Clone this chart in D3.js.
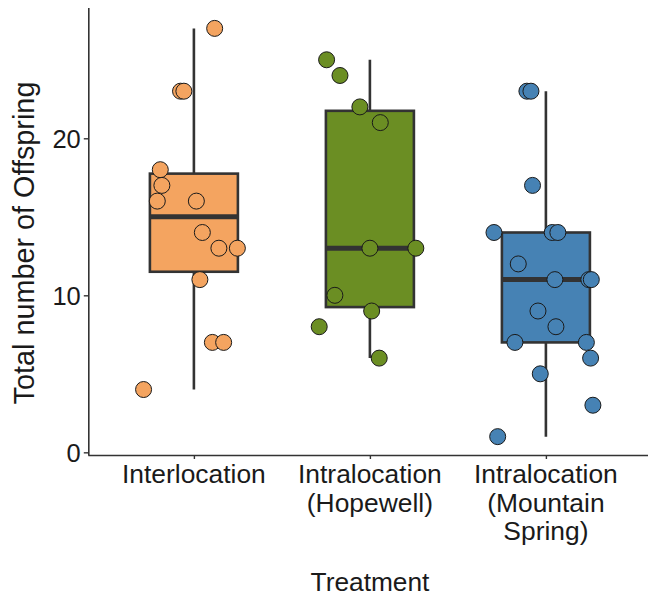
<!DOCTYPE html>
<html>
<head>
<meta charset="utf-8">
<script src="https://cdn.jsdelivr.net/npm/d3@7"></script>
<style>
html, body { margin: 0; padding: 0; background: #fff; }
svg { display: block; }
text { font-family: "Liberation Sans", Arial, sans-serif; fill: #1a1a1a; }
</style>
</head>
<body>
<svg id="chart" width="648" height="597"></svg>
<script>
// ---- data ----
const categories = ["Interlocation", "Intralocation (Hopewell)", "Intralocation (Mountain Spring)"];
const categoryLabels = [["Interlocation"], ["Intralocation", "(Hopewell)"], ["Intralocation", "(Mountain", "Spring)"]];
const colors = ["#F4A460", "#6B8E23", "#4682B4"];

const interlocationValues = [27, 23, 23, 18, 17, 16, 16, 14, 13, 13, 11, 7, 7, 4];
const interlocationJitter = [0.118, -0.076, -0.057, -0.191, -0.182, -0.208, 0.014, 0.048, 0.142, 0.247, 0.034, 0.105, 0.169, -0.286];

const hopewellValues = [25, 24, 22, 21, 13, 13, 10, 9, 8, 6];
const hopewellJitter = [-0.246, -0.170, -0.057, 0.059, 0.0, 0.261, -0.199, 0.010, -0.288, 0.053];

const mountainValues = [23, 23, 17, 14, 14, 14, 12, 11, 11, 11, 9, 8, 7, 7, 6, 5, 3, 1];
const mountainJitter = [-0.108, -0.085, -0.076, -0.295, 0.036, 0.068, -0.157, 0.051, 0.244, 0.258, -0.045, 0.057, -0.176, 0.230, 0.254, -0.032, 0.267, -0.274];

const yTicks = [0, 10, 20];
const yTitle = "Total number of Offspring";
const xTitle = "Treatment";

// ---- build ----
const groups = [
  { cat: categories[0], values: interlocationValues, jitter: interlocationJitter, color: colors[0], label: categoryLabels[0] },
  { cat: categories[1], values: hopewellValues, jitter: hopewellJitter, color: colors[1], label: categoryLabels[1] },
  { cat: categories[2], values: mountainValues, jitter: mountainJitter, color: colors[2], label: categoryLabels[2] }
];

groups.forEach(g => {
  const s = g.values.slice().sort(d3.ascending);
  g.q1 = d3.quantile(s, 0.25);
  g.med = d3.quantile(s, 0.5);
  g.q3 = d3.quantile(s, 0.75);
  const iqr = g.q3 - g.q1;
  g.lo = d3.min(s.filter(v => v >= g.q1 - 1.5 * iqr));
  g.hi = d3.max(s.filter(v => v <= g.q3 + 1.5 * iqr));
});

const svg = d3.select("#chart");
const axisX = 88.3, axisBottom = 455, axisTop = 7.5;

const x = d3.scalePoint().domain(categories).range([axisX, 651.5]).padding(0.6);
const step = x.step();
const y = d3.scaleLinear().domain([-0.17, 28.33]).range([axisBottom, axisTop]);
const boxW = step * 0.5;
const ink = "#333333";

const g = svg.append("g");

// whiskers
g.selectAll("line.whisker").data(groups).join("line")
  .attr("class", "whisker")
  .attr("x1", d => x(d.cat)).attr("x2", d => x(d.cat))
  .attr("y1", d => y(d.hi)).attr("y2", d => y(d.lo))
  .attr("stroke", ink).attr("stroke-width", 2.6);

// boxes
g.selectAll("rect.box").data(groups).join("rect")
  .attr("class", "box")
  .attr("x", d => x(d.cat) - boxW / 2)
  .attr("width", boxW)
  .attr("y", d => y(d.q3))
  .attr("height", d => y(d.q1) - y(d.q3))
  .attr("fill", d => d.color)
  .attr("stroke", ink).attr("stroke-width", 2.6);

// medians
g.selectAll("line.median").data(groups).join("line")
  .attr("class", "median")
  .attr("x1", d => x(d.cat) - boxW / 2).attr("x2", d => x(d.cat) + boxW / 2)
  .attr("y1", d => y(d.med)).attr("y2", d => y(d.med))
  .attr("stroke", ink).attr("stroke-width", 5);

// points
groups.forEach(gr => {
  g.selectAll(null).data(gr.values.map((v, i) => ({ v, j: gr.jitter[i] }))).join("circle")
    .attr("cx", d => x(gr.cat) + d.j * step)
    .attr("cy", d => y(d.v))
    .attr("r", 8)
    .attr("fill", gr.color)
    .attr("stroke", "#1a1a1a")
    .attr("stroke-width", 1);
});

// y axis
const yAxis = svg.append("g")
  .attr("transform", `translate(${axisX},0)`)
  .call(d3.axisLeft(y).tickValues(yTicks).tickSize(4.5).tickPadding(3).tickSizeOuter(0));
yAxis.select(".domain").attr("stroke", ink).attr("stroke-width", 1.6);
yAxis.selectAll(".tick line").attr("stroke", ink).attr("stroke-width", 1.4);
yAxis.selectAll(".tick text")
  .style("font-family", "'Liberation Sans', Arial, sans-serif")
  .attr("font-size", 25.5).attr("fill", "#1a1a1a").attr("dy", "0.36em");

// x axis
const xAxis = svg.append("g")
  .attr("transform", `translate(0,${axisBottom})`)
  .call(d3.axisBottom(x).tickSize(4).tickSizeOuter(0).tickFormat(""));
xAxis.select(".domain").attr("stroke", ink).attr("stroke-width", 1.6)
  .attr("d", `M${axisX},0.5H648`);
xAxis.selectAll(".tick line").attr("stroke", ink).attr("stroke-width", 1.4);

// x tick labels (multi-line)
groups.forEach(gr => {
  const t = svg.append("text")
    .attr("text-anchor", "middle")
    .attr("font-size", 26.4)
    .attr("x", x(gr.cat))
    .attr("y", 483);
  gr.label.forEach((line, i) => {
    t.append("tspan").attr("x", x(gr.cat)).attr("dy", i === 0 ? 0 : 28.5).text(line);
  });
});

// axis titles
svg.append("text")
  .attr("text-anchor", "middle")
  .attr("font-size", 26.3)
  .attr("x", 370).attr("y", 591)
  .text(xTitle);

svg.append("text")
  .attr("text-anchor", "middle")
  .attr("font-size", 28.8)
  .attr("transform", "translate(34,243) rotate(-90)")
  .text(yTitle);
</script>
</body>
</html>
